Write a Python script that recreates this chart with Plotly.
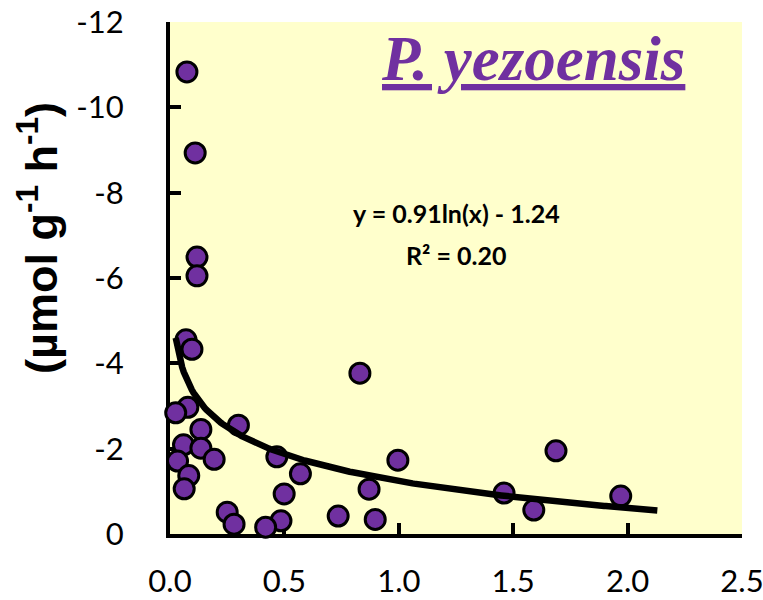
import numpy as np
import plotly.graph_objects as go

# ---- data ----
x_vals = [0.074, 0.110, 0.118, 0.118, 0.070, 0.096, 0.830, 0.078, 0.025, 0.299,
          0.135, 0.059, 0.135, 0.193, 0.033, 0.467, 0.570, 0.996, 1.687, 0.082,
          0.062, 0.499, 0.870, 1.460, 1.970, 1.590, 0.250, 0.280, 0.735, 0.485,
          0.897, 0.418]
y_vals = [-10.83, -8.93, -6.49, -6.05, -4.55, -4.33, -3.77, -2.97, -2.84, -2.55,
          -2.45, -2.09, -2.01, -1.75, -1.71, -1.81, -1.41, -1.73, -1.95, -1.37,
          -1.06, -0.94, -1.05, -0.96, -0.89, -0.56, -0.51, -0.23, -0.42, -0.31,
          -0.34, -0.16]

fit_a = 0.91
fit_b = -1.24
fit_x_min = 0.025
fit_x_max = 2.13

x_tick_vals = [0.0, 0.5, 1.0, 1.5, 2.0, 2.5]
x_tick_text = ["0.0", "0.5", "1.0", "1.5", "2.0", "2.5"]
y_tick_vals = [0, -2, -4, -6, -8, -10, -12]
y_tick_text = ["0", "-2", "-4", "-6", "-8", "-10", "-12"]

title_text = "P. yezoensis"
eq_text = "y = 0.91ln(x) - 1.24"
r2_text = "R² = 0.20"
y_title = "(µmol g<sup>-1</sup> h<sup>-1</sup>)"

# ---- figure ----
fx = np.linspace(fit_x_min, fit_x_max, 300)
fy = fit_a * np.log(fx) + fit_b

fig = go.Figure()
fig.add_trace(go.Scatter(
    x=x_vals, y=y_vals, mode="markers", cliponaxis=False,
    marker=dict(size=20, color="#7030A0", line=dict(color="black", width=3)),
    showlegend=False, hoverinfo="skip"))
fig.add_trace(go.Scatter(
    x=fx, y=fy, mode="lines", cliponaxis=False,
    line=dict(color="black", width=6.5), showlegend=False, hoverinfo="skip"))

tickfont = dict(family="Lato", size=31, color="black")
fig.update_xaxes(
    range=[0, 2.5], tickvals=x_tick_vals, ticktext=x_tick_text,
    showline=True, linecolor="black", linewidth=4, ticks="inside",
    ticklen=11, tickwidth=4, tickcolor="black", showgrid=False, zeroline=False,
    tickfont=tickfont, ticklabelstandoff=17, layer="below traces",
    automargin=False, ticklabeloverflow="allow")
fig.update_yaxes(
    range=[0, -12], tickvals=y_tick_vals, ticktext=y_tick_text,
    showline=True, linecolor="black", linewidth=4, ticks="inside",
    ticklen=11, tickwidth=4, tickcolor="black", showgrid=False, zeroline=False,
    tickfont=tickfont, ticklabelstandoff=36, layer="below traces",
    automargin=False, ticklabeloverflow="allow")

L, R, T, B = 170, 742, 22, 534
W, H = 763, 600


def px(xp):
    return (xp - L) / (R - L)


def py(yp):
    return (B - yp) / (B - T)


fig.add_annotation(
    text="<u><b><i>" + title_text + "</i></b></u>", xref="paper", yref="paper",
    x=px(533), y=py(59), xanchor="center", yanchor="middle", showarrow=False,
    font=dict(family="Liberation Serif", size=63, color="#7030A0"))
fig.add_annotation(
    text="<b>" + eq_text + "</b>", xref="paper", yref="paper",
    x=px(456), y=py(213), xanchor="center", yanchor="middle", showarrow=False,
    font=dict(family="Lato", size=25, color="black"))
fig.add_annotation(
    text="<b>" + r2_text + "</b>", xref="paper", yref="paper",
    x=px(456), y=py(255), xanchor="center", yanchor="middle", showarrow=False,
    font=dict(family="Lato", size=25, color="black"))
fig.add_annotation(
    text="<b>" + y_title + "</b>", xref="paper", yref="paper",
    x=px(38), y=py(238), xanchor="center", yanchor="middle", showarrow=False,
    textangle=-90,
    font=dict(family="Liberation Sans", size=45, color="black"))

fig.update_layout(
    width=W, height=H, autosize=False,
    margin=dict(l=L, r=W - R, t=T, b=H - B, pad=0),
    paper_bgcolor="white", plot_bgcolor="#FFFFCC")

fig.write_html("out.html")
